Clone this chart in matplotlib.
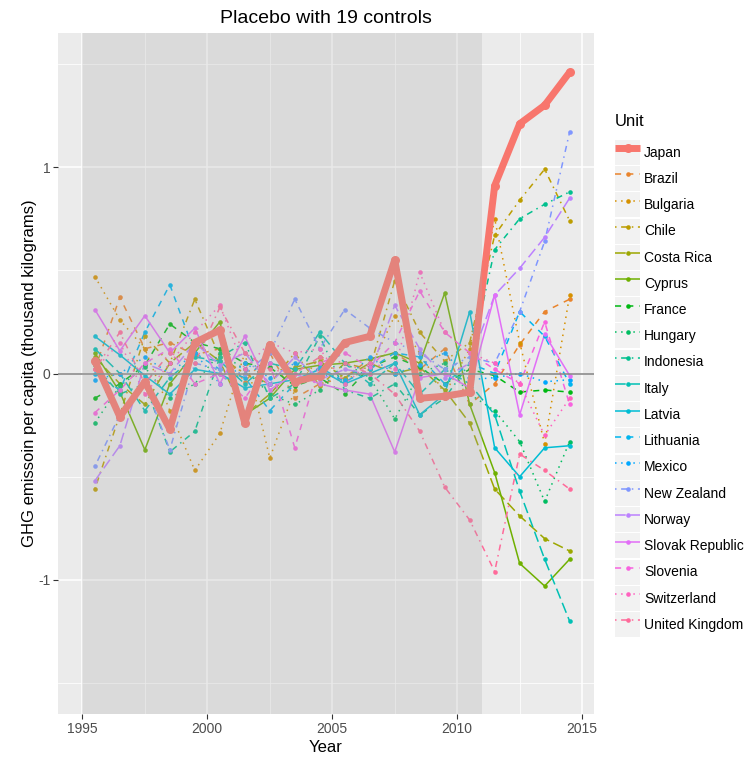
import numpy as np
import matplotlib
matplotlib.use("Agg")
import matplotlib.pyplot as plt
from matplotlib.lines import Line2D
from matplotlib.patches import Patch
from matplotlib.legend_handler import HandlerTuple

plt.rcParams['font.family'] = ['Liberation Sans', 'DejaVu Sans']
plt.rcParams['axes.unicode_minus'] = False

years = [1995.5, 1996.5, 1997.5, 1998.5, 1999.5, 2000.5, 2001.5, 2002.5, 2003.5, 2004.5,
         2005.5, 2006.5, 2007.5, 2008.5, 2009.5, 2010.5, 2011.5, 2012.5, 2013.5, 2014.5]

units = ["Japan", "Brazil", "Bulgaria", "Chile", "Costa Rica", "Cyprus", "France", "Hungary",
         "Indonesia", "Italy", "Latvia", "Lithuania", "Mexico", "New Zealand", "Norway",
         "Slovak Republic", "Slovenia", "Switzerland", "United Kingdom"]

# placebo gaps per unit (treated unit first)
japan = [0.06, -0.21, -0.04, -0.27, 0.15, 0.21, -0.24, 0.14, -0.04, -0.01, 0.15, 0.18, 0.55, -0.12, -0.11, -0.09, 0.91, 1.21, 1.30, 1.46]
brazil = [0.02, 0.37, 0.12, 0.15, 0.09, 0.12, -0.04, 0.10, -0.12, -0.05, -0.02, 0.07, 0.10, 0.02, 0.12, -0.15, -0.05, 0.14, 0.30, 0.36]
bulgaria = [0.47, 0.26, 0.12, -0.18, -0.47, -0.29, 0.10, -0.41, -0.08, 0.08, -0.03, 0.02, 0.28, 0.10, -0.10, 0.12, 0.75, 0.15, -0.34, 0.38]
chile = [-0.56, -0.20, 0.18, 0.05, 0.36, 0.08, 0.00, -0.05, 0.10, -0.06, 0.05, 0.02, 0.45, 0.20, 0.06, 0.15, 0.67, 0.84, 0.99, 0.74]
costa_rica = [0.08, -0.05, -0.15, 0.05, 0.15, 0.06, -0.20, -0.10, 0.03, 0.06, -0.02, 0.05, 0.00, 0.03, -0.08, -0.24, -0.56, -0.69, -0.80, -0.86]
cyprus = [0.10, -0.09, -0.37, -0.05, 0.10, 0.25, -0.20, -0.12, 0.02, 0.04, 0.05, 0.07, 0.10, 0.05, 0.39, -0.15, -0.48, -0.92, -1.03, -0.90]
france = [-0.12, -0.05, 0.04, 0.24, 0.15, 0.12, 0.05, 0.03, -0.06, -0.02, -0.10, 0.03, 0.08, 0.03, -0.05, 0.02, -0.01, -0.09, -0.08, -0.09]
hungary = [-0.24, -0.06, 0.03, -0.12, -0.05, 0.10, 0.02, -0.10, -0.15, -0.08, 0.05, -0.02, -0.22, 0.00, 0.05, -0.10, -0.18, -0.33, -0.62, -0.33]
indonesia = [0.04, -0.10, -0.05, -0.38, -0.28, 0.08, 0.15, -0.12, -0.05, 0.18, -0.08, -0.12, -0.05, -0.20, -0.12, 0.05, 0.60, 0.75, 0.82, 0.88]
italy = [0.12, 0.00, -0.18, -0.02, 0.08, 0.06, -0.05, 0.05, 0.02, 0.20, 0.05, -0.05, 0.05, -0.10, 0.02, -0.05, -0.20, -0.57, -0.90, -1.20]
latvia = [0.18, 0.09, -0.01, -0.10, 0.02, 0.00, -0.07, -0.05, -0.03, 0.02, -0.05, 0.00, 0.05, -0.20, -0.10, 0.30, -0.36, -0.50, -0.36, -0.35]
lithuania = [0.00, -0.08, 0.20, 0.43, 0.10, 0.02, -0.02, -0.18, -0.05, 0.03, -0.04, 0.02, 0.10, 0.08, -0.05, 0.05, 0.00, 0.30, 0.18, -0.05]
mexico = [-0.03, 0.00, 0.08, 0.00, 0.10, -0.05, 0.05, -0.02, 0.05, 0.00, -0.03, 0.08, 0.00, 0.04, 0.10, -0.03, -0.02, 0.00, -0.04, -0.03]
new_zealand = [-0.45, -0.20, -0.05, -0.37, 0.05, 0.02, 0.00, 0.10, 0.36, 0.12, 0.31, 0.22, 0.15, 0.10, 0.02, 0.08, 0.05, 0.30, 0.64, 1.17]
norway = [-0.52, -0.35, 0.05, 0.00, 0.15, 0.04, 0.10, -0.05, 0.08, -0.03, 0.02, 0.00, 0.33, 0.12, -0.02, 0.05, 0.38, 0.51, 0.66, 0.85]
slovak_republic = [0.31, 0.11, 0.28, 0.10, 0.22, -0.05, 0.18, -0.08, 0.00, -0.05, -0.08, -0.10, -0.38, -0.02, 0.00, -0.07, 0.38, -0.20, 0.19, -0.01]
slovenia = [-0.19, -0.08, 0.05, 0.12, -0.05, 0.00, -0.12, 0.05, -0.36, 0.05, 0.10, 0.03, 0.15, 0.40, 0.20, 0.10, 0.02, -0.05, 0.25, -0.15]
switzerland = [0.02, 0.15, -0.10, 0.05, 0.20, 0.33, 0.02, 0.15, 0.10, 0.12, -0.05, 0.05, 0.02, 0.49, 0.20, 0.10, 0.05, -0.05, -0.30, -0.12]
united_kingdom = [0.02, 0.20, -0.05, 0.10, 0.05, 0.32, 0.10, 0.02, 0.00, 0.08, 0.05, 0.00, -0.10, -0.28, -0.55, -0.71, -0.96, -0.39, -0.47, -0.56]

series = [japan, brazil, bulgaria, chile, costa_rica, cyprus, france, hungary, indonesia,
          italy, latvia, lithuania, mexico, new_zealand, norway, slovak_republic, slovenia,
          switzerland, united_kingdom]

treatment_start = 2011
sample_start = 1995


def hcl_hex(h, c=100, l=65):
    # polar Luv -> sRGB, same as R's hcl()
    hr = np.deg2rad(h)
    u, v = c * np.cos(hr), c * np.sin(hr)
    xn, yn, zn = 95.047, 100.0, 108.883
    den = xn + 15 * yn + 3 * zn
    un, vn = 4 * xn / den, 9 * yn / den
    y = yn * ((l + 16) / 116) ** 3
    up, vp = u / (13 * l) + un, v / (13 * l) + vn
    x = y * 9 * up / (4 * vp)
    z = y * (12 - 3 * up - 20 * vp) / (4 * vp)
    x, y, z = x / 100, y / 100, z / 100
    rgb = [3.240479 * x - 1.537150 * y - 0.498535 * z,
           -0.969256 * x + 1.875992 * y + 0.041556 * z,
           0.055648 * x - 0.204043 * y + 1.057311 * z]
    out = []
    for t in rgb:
        t = min(max(t, 0), 1)
        t = 12.92 * t if t <= 0.0031308 else 1.055 * t ** (1 / 2.4) - 0.055
        out.append(int(round(255 * t)))
    return '#%02X%02X%02X' % tuple(out)


n = len(units)
colors = [hcl_hex(h) for h in np.linspace(15, 375, n + 1)[:-1]]

# R style line types
lty = {
    'solid': '-',
    'dashed': (0, (4, 4)),
    'dotted': (0, (1, 3)),
    'dotdash': (0, (1, 3, 4, 3)),
    'longdash': (0, (7, 3)),
}
lty_cycle = ['solid', 'dashed', 'dotted', 'dotdash', 'longdash']
linetypes = ['solid'] + [lty_cycle[(i + 1) % 5] for i in range(n - 1)]

fig = plt.figure(figsize=(7.54, 7.62), dpi=100)
ax = fig.add_axes([58 / 754, 48 / 762, 536 / 754, 681 / 762])
ax.set_facecolor('#EBEBEB')

for i in range(1, n):
    ax.plot(years, series[i], color=colors[i], lw=1.1, linestyle=lty[linetypes[i]],
            solid_capstyle='butt', dash_capstyle='butt', zorder=2)
for i in range(1, n):
    ax.plot(years, series[i], color=colors[i], lw=0, marker='o', ms=3.3,
            markeredgewidth=0, zorder=3)

ax.plot(years, japan, color=colors[0], lw=5, solid_capstyle='round',
        solid_joinstyle='round', zorder=4)
ax.plot(years, japan, color=colors[0], lw=0, marker='o', ms=6.5,
        markeredgewidth=0, zorder=4)

ax.axhline(0, color='#8A8A8A', lw=1.2, zorder=4.5)
ax.axvspan(sample_start, treatment_start, color='#AAAAAA', alpha=0.25, lw=0, zorder=5)

ax.set_xlim(1994.025, 2015.475)
ax.set_ylim(-1.65, 1.65)
ax.set_xticks([1995, 2000, 2005, 2010, 2015])
ax.set_xticks([1997.5, 2002.5, 2007.5, 2012.5], minor=True)
ax.set_yticks([-1, 0, 1])
ax.set_yticklabels(['-1', '0', '1'])
ax.set_yticks([-1.5, -0.5, 0.5, 1.5], minor=True)
ax.grid(which='major', color='white', lw=1.1)
ax.grid(which='minor', color='white', lw=0.55)
ax.set_axisbelow(True)
for s in ax.spines.values():
    s.set_visible(False)
ax.tick_params(which='major', length=3.5, width=0.8, color='#333333',
               labelcolor='#4D4D4D', labelsize=10, pad=2)
ax.tick_params(which='minor', length=0)

ax.set_title('Placebo with 19 controls', fontsize=14, pad=7)
ax.set_xlabel('Year', fontsize=12, labelpad=3)
ax.set_ylabel('GHG emissoin per capita (thousand kilograms)', fontsize=12, labelpad=1)

handles = []
for i in range(n):
    key_bg = Patch(facecolor='#F2F2F2', edgecolor='none')
    if i == 0:
        key_line = Line2D([], [], color=colors[0], lw=5, marker='o', ms=6.5,
                          markeredgewidth=0, solid_capstyle='butt')
    else:
        key_line = Line2D([], [], color=colors[i], lw=1.1, linestyle=lty[linetypes[i]],
                          marker='o', ms=3.3, markeredgewidth=0,
                          solid_capstyle='butt', dash_capstyle='butt')
    handles.append((key_bg, key_line))

leg = ax.legend(handles, units, handler_map={tuple: HandlerTuple(ndivide=1, pad=0)},
                loc='upper left', bbox_to_anchor=(596 / 754, 1 - 95 / 762),
                bbox_transform=fig.transFigure, frameon=False, fontsize=10,
                title='Unit', title_fontsize=12, alignment='left',
                handlelength=1.8, handleheight=2.39, labelspacing=0.09,
                handletextpad=0.3, borderpad=1.37, borderaxespad=0, numpoints=1)
# more room between the legend title and the keys
leg._legend_box.sep = 7.8

fig.savefig('out.png', dpi=100)
